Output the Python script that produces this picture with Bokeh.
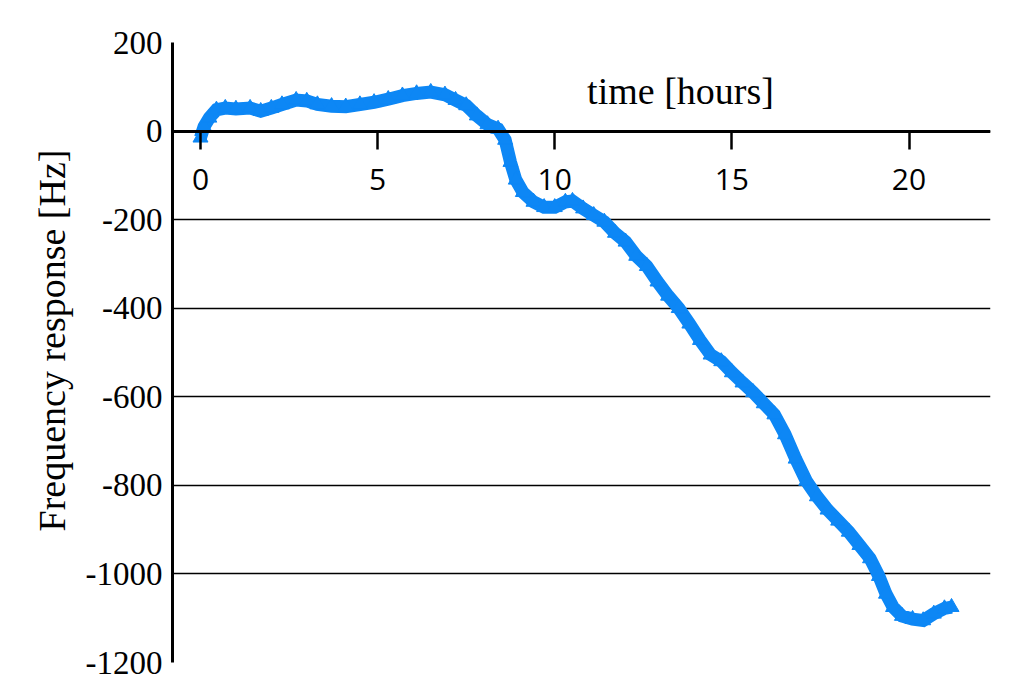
from bokeh.plotting import figure
from bokeh.models import Range1d, FixedTicker, Label, Title
from bokeh.embed import file_html
from bokeh.resources import INLINE

# ---- data ----
time_h = [0.0, 0.1, 0.25, 0.45, 0.7, 1.0, 1.4, 1.7, 2.0, 2.3, 2.7, 3.0, 3.3, 3.7, 4.1,
          4.5, 4.9, 5.3, 5.7, 6.1, 6.5, 6.9, 7.2, 7.5, 7.8, 8.1, 8.4, 8.6, 8.75, 8.9,
          9.1, 9.4, 9.7, 10.0, 10.3, 10.5, 10.8, 11.1, 11.4, 11.7, 12.0, 12.3, 12.6,
          12.9, 13.2, 13.5, 13.8, 14.1, 14.4, 14.7, 15.0, 15.3, 15.6, 15.9, 16.2, 16.5,
          16.8, 17.1, 17.4, 17.7, 18.0, 18.3, 18.6, 18.9, 19.15, 19.35, 19.55, 19.8,
          20.1, 20.4, 20.7, 21.0, 21.2]
freq_hz = [-15, 10, 30, 48, 52, 50, 52, 45, 52, 60, 70, 68, 60, 56, 55,
           60, 65, 72, 80, 85, 88, 82, 70, 58, 35, 15, 5, -20, -70, -110,
           -138, -160, -172, -172, -160, -158, -175, -190, -205, -230, -250, -282, -305,
           -340, -372, -400, -435, -472, -505, -520, -545, -568, -590, -615, -640, -685,
           -740, -790, -825, -855, -880, -905, -935, -965, -1005, -1045, -1075, -1095,
           -1102, -1105, -1090, -1078, -1075]
x_ticks = [0, 5, 10, 15, 20]
y_ticks = [-1200, -1000, -800, -600, -400, -200, 0, 200]

x_title = "time [hours]"
y_title = "Frequency response [Hz]"

BLUE = "#0D87F5"

p = figure(width=1008, height=681, output_backend="svg", toolbar_location=None,
           x_range=Range1d(-0.79, 22.3), y_range=Range1d(-1200, 200),
           min_border_left=172, min_border_right=18, min_border_top=42,
           min_border_bottom=19)
p.outline_line_color = None
p.background_fill_color = "white"

p.line(time_h, freq_hz, line_width=13, color=BLUE, line_join="miter")
p.scatter(time_h, freq_hz, marker="triangle", size=15, color=BLUE)

# x axis placed at y = 0
xa = p.xaxis[0]
xa.fixed_location = 0
xa.ticker = FixedTicker(ticks=x_ticks)
xa.major_tick_in = 0
xa.major_tick_out = 18
xa.minor_tick_line_color = None
xa.axis_line_width = 3
xa.axis_line_color = "black"
xa.major_tick_line_width = 2.5
xa.major_tick_line_color = "black"
xa.major_label_text_font = "Open Sans"
xa.major_label_text_font_size = "30px"
xa.major_label_text_color = "black"
xa.major_label_standoff = 20

ya = p.yaxis[0]
ya.ticker = FixedTicker(ticks=y_ticks)
ya.major_label_overrides = {v: str(v) for v in y_ticks}
ya.major_tick_in = 0
ya.major_tick_out = 0
ya.minor_tick_line_color = None
ya.axis_line_width = 3
ya.axis_line_color = "black"
ya.major_label_text_font = "Liberation Serif"
ya.major_label_text_font_size = "33px"
ya.major_label_text_color = "black"
ya.major_label_standoff = 10

p.xgrid.visible = False
p.ygrid.ticker = FixedTicker(ticks=y_ticks)
p.ygrid.grid_line_color = "black"
p.ygrid.grid_line_width = 1.5

p.add_layout(Label(x=13.55, y=90, text=x_title, text_font="Liberation Serif",
                   text_font_size="38px", text_align="center", text_baseline="middle",
                   text_color="black"))

ytitle = Title(text=y_title, align="left", offset=131, text_font="Liberation Serif",
               text_font_size="38px", text_font_style="normal", text_color="black",
               standoff=20)
p.add_layout(ytitle, "left")

open("out.html", "w").write(file_html(p, INLINE))
